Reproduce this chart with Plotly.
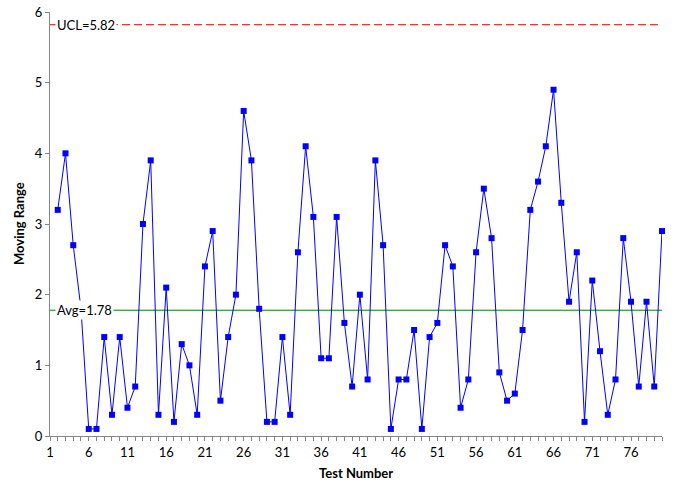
import plotly.graph_objects as go

test_number = list(range(2, 81))
moving_range = [3.2, 4.0, 2.7, 1.8, 0.1, 0.1, 1.4, 0.3, 1.4, 0.4,
                0.7, 3.0, 3.9, 0.3, 2.1, 0.2, 1.3, 1.0, 0.3, 2.4,
                2.9, 0.5, 1.4, 2.0, 4.6, 3.9, 1.8, 0.2, 0.2, 1.4,
                0.3, 2.6, 4.1, 3.1, 1.1, 1.1, 3.1, 1.6, 0.7, 2.0,
                0.8, 3.9, 2.7, 0.1, 0.8, 0.8, 1.5, 0.1, 1.4, 1.6,
                2.7, 2.4, 0.4, 0.8, 2.6, 3.5, 2.8, 0.9, 0.5, 0.6,
                1.5, 3.2, 3.6, 4.1, 4.9, 3.3, 1.9, 2.6, 0.2, 2.2,
                1.2, 0.3, 0.8, 2.8, 1.9, 0.7, 1.9, 0.7, 2.9]
ucl = 5.82
avg = 1.78
x_min, x_max = 1, 80
x_tick_vals = list(range(1, 80, 5))
y_tick_vals = [0, 1, 2, 3, 4, 5, 6]

FONT = "Lato, 'Open Sans', sans-serif"
AXIS_GRAY = "#868686"

fig = go.Figure()

fig.add_trace(go.Scatter(
    x=[x_min, x_max], y=[ucl, ucl], mode="lines",
    line=dict(color="#E00000", width=1, dash="8px,4px"),
    hoverinfo="skip", showlegend=False))
fig.add_trace(go.Scatter(
    x=[x_min, x_max], y=[avg, avg], mode="lines",
    line=dict(color="#008000", width=1),
    hoverinfo="skip", showlegend=False))
fig.add_trace(go.Scatter(
    x=test_number, y=moving_range, mode="lines+markers",
    line=dict(color="#0000FF", width=1),
    marker=dict(symbol="square", size=6, color="#0000FF"),
    showlegend=False, cliponaxis=False))

for val, label in [(ucl, "UCL=%.2f" % ucl), (avg, "Avg=%.2f" % avg)]:
    fig.add_annotation(
        x=x_min, y=val, xref="x", yref="y", text=label, showarrow=False,
        xanchor="left", yanchor="middle", xshift=5,
        bgcolor="white", borderpad=1,
        font=dict(family=FONT, size=13, color="black"))

# axis titles
fig.add_annotation(
    x=0.5, y=0, xref="paper", yref="paper", text="<b>Test Number</b>",
    showarrow=False, xanchor="center", yanchor="middle", yshift=-37,
    font=dict(family=FONT, size=13, color="black"))
fig.add_annotation(
    x=0, y=0.5, xref="paper", yref="paper", text="<b>Moving Range</b>",
    showarrow=False, xanchor="center", yanchor="middle", xshift=-31,
    textangle=-90, font=dict(family=FONT, size=13, color="black"))

fig.update_layout(
    width=680, height=486,
    margin=dict(l=50, r=18, t=12, b=50, autoexpand=False),
    paper_bgcolor="white", plot_bgcolor="white",
    font=dict(family=FONT, size=13, color="black"),
)
fig.update_xaxes(
    range=[x_min, x_max], tickmode="array", tickvals=x_tick_vals,
    ticks="outside", ticklen=4, tickcolor=AXIS_GRAY,
    minor=dict(tickmode="linear", tick0=1, dtick=1, ticks="outside",
               ticklen=4, tickcolor=AXIS_GRAY, showgrid=False),
    showline=True, linecolor=AXIS_GRAY, linewidth=1,
    showgrid=False, zeroline=False, automargin=False,
    tickfont=dict(family=FONT, size=13),
)
fig.update_yaxes(
    range=[0, 6], tickmode="array", tickvals=y_tick_vals,
    ticks="outside", ticklen=4, tickcolor=AXIS_GRAY,
    showline=True, linecolor=AXIS_GRAY, linewidth=1,
    showgrid=False, zeroline=False, automargin=False,
    tickfont=dict(family=FONT, size=13),
)

fig.write_html("out.html")
